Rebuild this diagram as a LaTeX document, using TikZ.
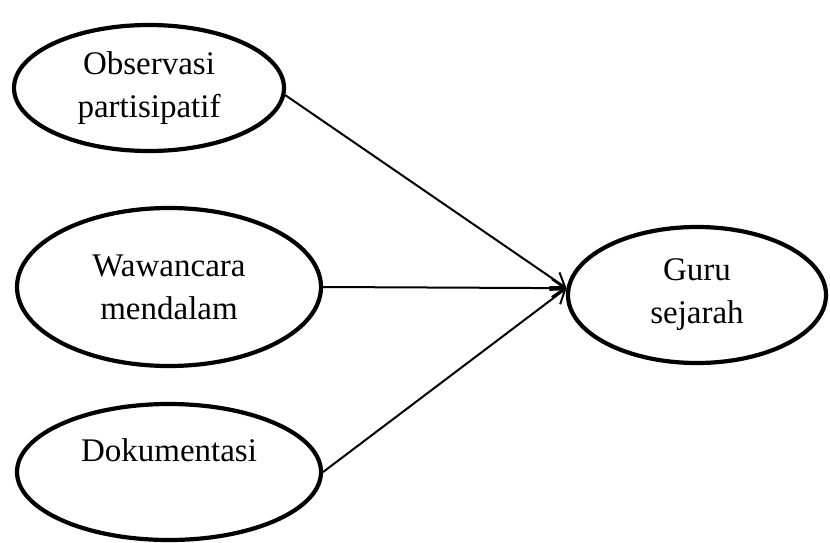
\documentclass[tikz,border=0pt]{standalone}
\usepackage{fontspec}
\setmainfont{Liberation Serif}
\usetikzlibrary{shapes.geometric,arrows.meta}
\begin{document}
\begin{tikzpicture}[x=1pt, y=-1pt,
  oval/.style={draw, ellipse, line width=4.2pt, inner sep=0pt, align=center,
    font=\fontsize{33}{43}\selectfont},
  link/.style={line width=2pt, -{Straight Barb[length=13pt, width=18pt, line width=2pt]}}]
  \useasboundingbox (0,0) rectangle (830,543);
  % Sources
  \node[oval, minimum width=270pt, minimum height=126pt] (obs) at (149,88) {Observasi\\partisipatif};
  \node[oval, minimum width=304pt, minimum height=158pt] (waw) at (169,287) {Wawancara\\mendalam};
  \node[oval, minimum width=304pt, minimum height=136pt] (dok) at (169,472) {Dokumentasi\\\mbox{}};
  % Target
  \node[oval, minimum width=258pt, minimum height=136pt] (guru) at (697,295) {Guru\\sejarah};
  \coordinate (tip) at (guru.177);
  % Arrows
  \draw[link] (obs.-3) -- (tip);
  \draw[link] (waw.east) -- (tip);
  \draw[link] (dok.east) -- (tip);
\end{tikzpicture}
\end{document}
